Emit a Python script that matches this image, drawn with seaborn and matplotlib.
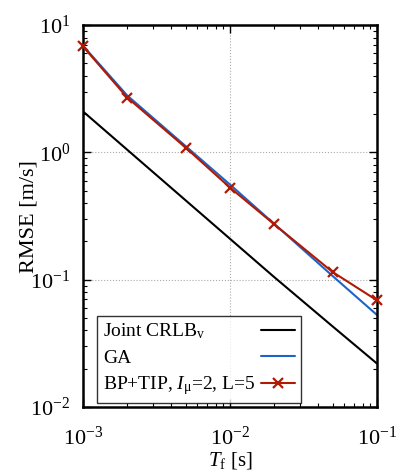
import numpy as np
import pandas as pd
import seaborn as sns
import matplotlib.pyplot as plt
from matplotlib.ticker import LogLocator, NullFormatter

# frame length T_f [s]
tf = [0.001, 0.002, 0.005, 0.01, 0.02, 0.05, 0.1]

# RMSE [m/s] per method
crlb = [2.1, 1.05, 0.42, 0.21, 0.105, 0.043, 0.022]
ga = [6.9, 2.8, 1.12, 0.56, 0.275, 0.107, 0.053]
bp_tip = [6.8, 2.7, 1.09, 0.53, 0.273, 0.115, 0.069]

labels = ["Joint CRLB$_\\mathrm{v}$", "GA", "BP+TIP, $\\mathit{I}_\\mathrm{\\mu}$=2, L=5"]

sns.set_style("ticks", {"axes.edgecolor": "black", "text.color": "black",
                        "xtick.color": "black", "ytick.color": "black",
                        "axes.labelcolor": "black"})
plt.rcParams["font.family"] = ["Liberation Serif", "DejaVu Serif"]
plt.rcParams["mathtext.fontset"] = "custom"
plt.rcParams["mathtext.rm"] = "Liberation Serif"
plt.rcParams["mathtext.it"] = "Liberation Serif:italic"
plt.rcParams["mathtext.default"] = "rm"

fig = plt.figure(figsize=(4.07, 4.75), dpi=100)
ax = fig.add_axes([0.204, 0.143, 0.722, 0.804])

red = "#b01a04"
sns.lineplot(x=tf, y=crlb, ax=ax, color="black", lw=1.5, label=labels[0])
sns.lineplot(x=tf, y=ga, ax=ax, color="#1e64c8", lw=1.5, label=labels[1])
sns.lineplot(x=tf, y=bp_tip, ax=ax, color=red, lw=1.5, marker="x",
             markersize=7, markeredgewidth=1.6, markeredgecolor=red,
             label=labels[2], clip_on=False, zorder=5)

ax.set_xscale("log")
ax.set_yscale("log")
ax.set_xlim(1e-3, 1e-1)
ax.set_ylim(1e-2, 1e1)

ax.xaxis.set_minor_locator(LogLocator(base=10, subs=np.arange(2, 10), numticks=20))
ax.yaxis.set_minor_locator(LogLocator(base=10, subs=np.arange(2, 10), numticks=20))
ax.xaxis.set_minor_formatter(NullFormatter())
ax.yaxis.set_minor_formatter(NullFormatter())

ax.tick_params(which="both", direction="in", top=True, right=True, labelsize=16)
ax.tick_params(which="major", length=6, width=1)
ax.tick_params(which="minor", length=3, width=0.8)
ax.tick_params(axis="x", pad=14)
ax.tick_params(axis="y", pad=9)

ax.grid(which="major", color="#aaaaaa", linestyle=":", linewidth=0.8)
for s in ax.spines.values():
    s.set_linewidth(1.8)

ax.set_xlabel("$\\mathit{T}_\\mathrm{f}$ [s]", fontsize=15)
ax.set_ylabel("RMSE [m/s]", fontsize=16)
ax.xaxis.set_label_coords(0.5, -0.112)
ax.yaxis.set_label_coords(-0.15, 0.5)

leg = ax.legend(loc="lower left", bbox_to_anchor=(0.048, 0.01), markerfirst=False,
                fontsize=14, frameon=True, fancybox=False, handlelength=1.75,
                borderpad=0.3, labelspacing=0.4, handletextpad=0.3,
                borderaxespad=0)
leg.get_frame().set_edgecolor("black")
leg.get_frame().set_linewidth(1.0)

# left-align legend text while keeping the handles in one column on the right
fig.canvas.draw()
r = fig.canvas.get_renderer()
widths = [t.get_window_extent(r).width * 72 / fig.dpi for t in leg.get_texts()]
col = leg._legend_handle_box.get_children()[0]
col.align = "left"
for row, w in zip(col.get_children(), widths):
    row.sep = 0.3 * 14 + (max(widths) - w)

fig.savefig("out.png", dpi=100)
